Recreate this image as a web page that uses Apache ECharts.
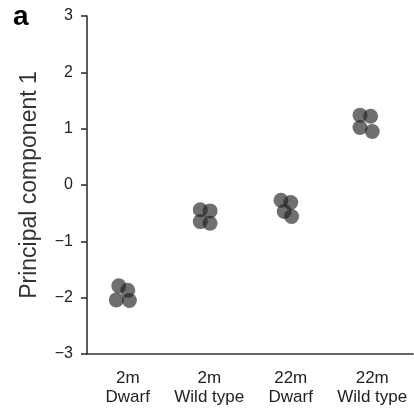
<!DOCTYPE html>
<html>
<head>
<meta charset="utf-8">
<script src="https://cdn.jsdelivr.net/npm/echarts@6/dist/echarts.min.js"></script>
<style>html,body{margin:0;padding:0;background:#fff}#c{width:414px;height:412px}</style>
</head>
<body>
<div id="c"></div>
<script>
const categories = ['2m\nDwarf', '2m\nWild type', '22m\nDwarf', '22m\nWild type'];
const yTicks = [-3, -2, -1, 0, 1, 2, 3];
// PC1 values per group (4 replicates each)
const pc1Dwarf2m = [-1.79, -1.87, -2.04, -2.05];
const pc1Wild2m = [-0.44, -0.46, -0.65, -0.68];
const pc1Dwarf22m = [-0.27, -0.31, -0.47, -0.56];
const pc1Wild22m = [1.24, 1.22, 1.02, 0.95];
// horizontal jitter per replicate (in category units)
const jitterDwarf2m = [-0.11, 0.0, -0.14, 0.02];
const jitterWild2m = [-0.11, 0.01, -0.11, 0.01];
const jitterDwarf22m = [-0.12, 0.0, -0.08, 0.01];
const jitterWild22m = [-0.15, -0.02, -0.15, 0.0];

const groups = [
  [pc1Dwarf2m, jitterDwarf2m],
  [pc1Wild2m, jitterWild2m],
  [pc1Dwarf22m, jitterDwarf22m],
  [pc1Wild22m, jitterWild22m]
];
const points = [];
groups.forEach(function (g, i) {
  g[0].forEach(function (v, k) { points.push([i + g[1][k], v]); });
});

const FONT = '"Liberation Sans", Arial, sans-serif';
const chart = echarts.init(document.getElementById('c'), null, {renderer: 'canvas'});
chart.setOption({
  animation: false,
  backgroundColor: '#fff',
  title: {
    text: 'a', left: 8, top: -2,
    textStyle: {fontFamily: FONT, fontSize: 28, fontWeight: 'bold', color: '#000'}
  },
  grid: {left: 87, right: 1, top: 16, bottom: 58},
  xAxis: [{
    type: 'category',
    data: categories,
    boundaryGap: true,
    axisLine: {onZero: false, lineStyle: {color: '#333', width: 1.6}},
    axisTick: {alignWithLabel: true, length: 7, lineStyle: {color: '#333', width: 1.6}},
    axisLabel: {fontFamily: FONT, fontSize: 17, lineHeight: 19, color: '#222', margin: 15, interval: 0}
  }, {
    type: 'value', min: -0.5, max: 3.5, show: false
  }],
  yAxis: {
    type: 'value', min: -3, max: 3, interval: 1,
    name: 'Principal component 1',
    nameLocation: 'middle', nameGap: 46,
    nameTextStyle: {fontFamily: FONT, fontSize: 23, color: '#333'},
    axisLine: {show: true, onZero: false, lineStyle: {color: '#333', width: 1.6}},
    axisTick: {show: true, length: 6, lineStyle: {color: '#333', width: 1.6}},
    splitLine: {show: false},
    axisLabel: {
      fontFamily: FONT, fontSize: 16, color: '#222', margin: 14,
      formatter: function (v) { return v < 0 ? '\u2212' + Math.abs(v) : String(v); }
    }
  },
  series: [{
    type: 'scatter',
    xAxisIndex: 1,
    data: points,
    symbolSize: 15,
    itemStyle: {color: 'rgba(30,30,30,0.8)'}
  }]
});
</script>
</body>
</html>
